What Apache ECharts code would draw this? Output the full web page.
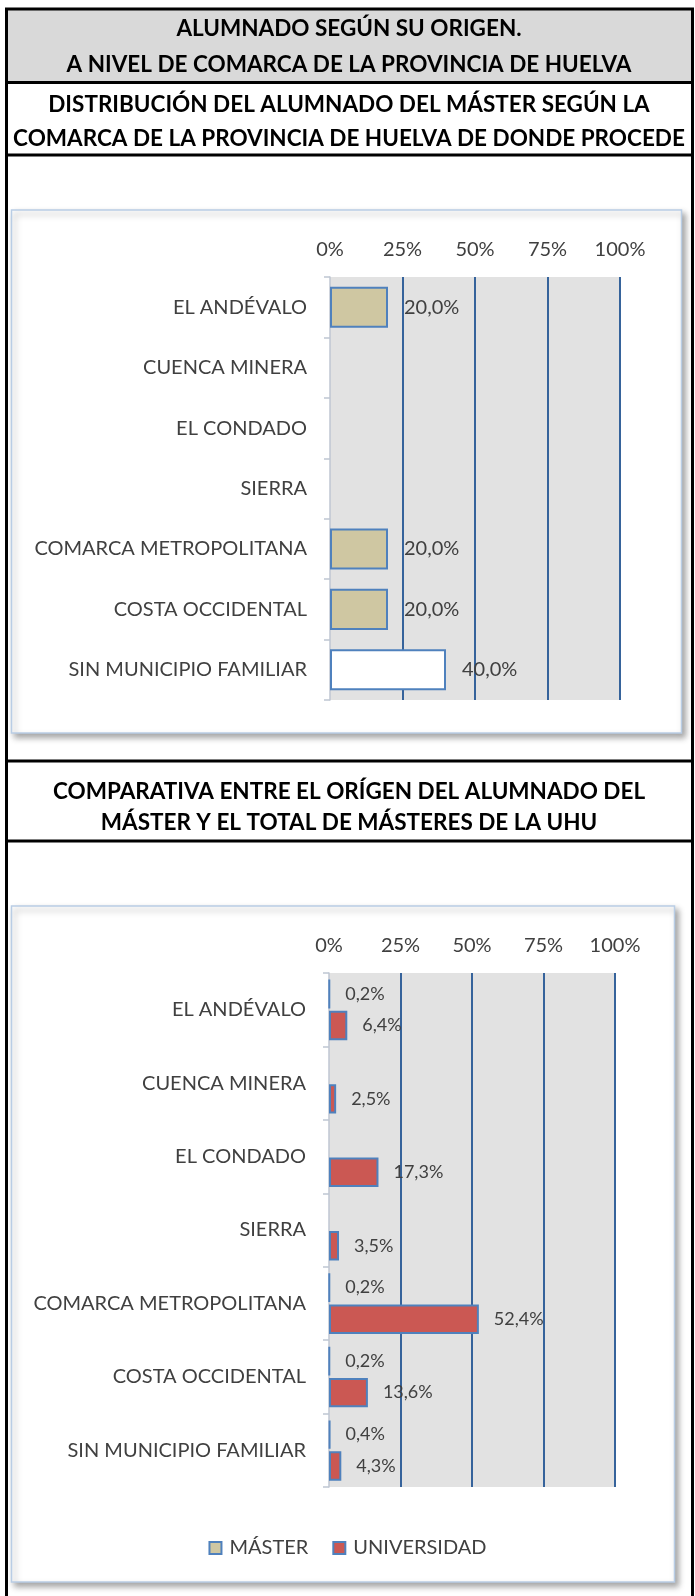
<!DOCTYPE html>
<html>
<head>
<meta charset="utf-8">
<script src="https://cdn.jsdelivr.net/npm/echarts@6/dist/echarts.min.js"></script>
<style>
html,body{margin:0;padding:0;background:#fff;}
#c{width:695px;height:1596px;}
</style>
</head>
<body>
<div id="c"></div>
<script>
// ---- data ----
const categories = ['EL ANDÉVALO','CUENCA MINERA','EL CONDADO','SIERRA','COMARCA METROPOLITANA','COSTA OCCIDENTAL','SIN MUNICIPIO FAMILIAR'];
const masterDist = [20.0, null, null, null, 20.0, 20.0, 40.0];
const masterCmp = [0.2, null, null, null, 0.2, 0.2, 0.4];
const universidadCmp = [6.4, 2.5, 17.3, 3.5, 52.4, 13.6, 4.3];
const axisTicks = [0, 25, 50, 75, 100];
const seriesNames = ['MÁSTER', 'UNIVERSIDAD'];
const headerLines = ['ALUMNADO SEGÚN SU ORIGEN.', 'A NIVEL DE COMARCA DE LA PROVINCIA DE HUELVA'];
const title1Lines = ['DISTRIBUCIÓN DEL ALUMNADO DEL MÁSTER SEGÚN LA', 'COMARCA DE LA PROVINCIA DE HUELVA DE DONDE PROCEDE'];
const title2Lines = ['COMPARATIVA ENTRE EL ORÍGEN DEL ALUMNADO DEL', 'MÁSTER Y EL TOTAL DE MÁSTERES DE LA UHU'];

// ---- styles ----
const FONT = 'Lato';
const TXT = '#404040';
const BLUE = '#4F81BD';
const GRIDLINE = '#36639B';
const BEIGE = '#CFC7A2';
const RED = '#CB5853';

const fmt = p => (p.value == null ? '' : p.value.toFixed(1).replace('.', ',') + '%');

function xAxisFor(gi) {
  return {
    gridIndex: gi, type: 'value', position: 'top',
    min: axisTicks[0], max: axisTicks[axisTicks.length - 1],
    interval: axisTicks[1] - axisTicks[0],
    axisLine: {show: false}, axisTick: {show: false},
    axisLabel: {formatter: '{value}%', fontFamily: FONT, fontSize: 20, color: TXT, margin: 17},
    splitLine: {show: true, showMinLine: false, lineStyle: {color: GRIDLINE, width: 2}}
  };
}
function yAxisFor(gi) {
  return {
    gridIndex: gi, type: 'category', inverse: true, data: categories,
    axisLine: {show: true, lineStyle: {color: '#BFC6D2', width: 1.5}},
    axisTick: {show: true, length: 6, lineStyle: {color: '#BFC6D2', width: 1.5}},
    axisLabel: {fontFamily: FONT, fontSize: 20, color: TXT, margin: 23}
  };
}

const titleBlock = (lines, top, lh) => ({
  text: lines.join('\n'), left: 349, textAlign: 'center', top: top, padding: 0,
  textStyle: {fontFamily: FONT, fontWeight: 'bold', fontSize: 22.5, color: '#000', lineHeight: lh}
});

const chartBox = (x, y, w, h) => ({
  type: 'rect', z: -10, shape: {x: x, y: y, width: w, height: h},
  style: {fill: '#fff', stroke: '#B9CDE5', lineWidth: 1.5,
          shadowBlur: 6, shadowOffsetX: 3, shadowOffsetY: 4, shadowColor: 'rgba(0,0,0,0.35)'}
});
const hLine = y => ({type: 'line', z: -5, shape: {x1: 6, y1: y, x2: 693, y2: y}, style: {stroke: '#000', lineWidth: 3}});

const option = {
  animation: false,
  backgroundColor: '#fff',
  title: [
    titleBlock(headerLines, 11, 36),
    titleBlock(title1Lines, 88, 34),
    titleBlock(title2Lines, 776, 31)
  ],
  graphic: [
    {type: 'rect', z: -20, shape: {x: 7, y: 10, width: 685, height: 72}, style: {fill: '#D9D9D9'}},
    chartBox(11.5, 210, 670, 523),
    chartBox(11.5, 906, 663, 676),
    {type: 'rect', z: -5, shape: {x: 6.5, y: 9, width: 686, height: 1600}, style: {fill: null, stroke: '#000', lineWidth: 3}},
    hLine(82.5), hLine(155), hLine(761), hLine(841)
  ],
  legend: {
    data: seriesNames, left: 'center', top: 1533,
    itemWidth: 12, itemHeight: 12, itemGap: 24, icon: 'rect',
    textStyle: {fontFamily: FONT, fontSize: 20, color: TXT, padding: [0, 0, 0, 3]}
  },
  grid: [
    {left: 330, top: 277, width: 290, height: 423, show: true, backgroundColor: '#E2E2E2', borderWidth: 0},
    {left: 329, top: 973, width: 286, height: 514, show: true, backgroundColor: '#E2E2E2', borderWidth: 0}
  ],
  xAxis: [xAxisFor(0), xAxisFor(1)],
  yAxis: [yAxisFor(0), yAxisFor(1)],
  series: [
    {
      type: 'bar', name: 'dist', xAxisIndex: 0, yAxisIndex: 0, barCategoryGap: '32%',
      data: masterDist.map((v, i) => categories[i] === 'SIN MUNICIPIO FAMILIAR' ? {value: v, itemStyle: {color: '#FFFFFF'}} : v),
      itemStyle: {color: BEIGE, borderColor: BLUE, borderWidth: 2},
      label: {show: true, position: 'right', distance: 16, formatter: fmt, fontFamily: FONT, fontSize: 20, color: TXT}
    },
    {
      type: 'bar', name: seriesNames[0], xAxisIndex: 1, yAxisIndex: 1, barCategoryGap: '17%', barGap: '7%',
      data: masterCmp,
      itemStyle: {color: BEIGE, borderColor: BLUE, borderWidth: 2},
      label: {show: true, position: 'right', distance: 15, formatter: fmt, fontFamily: FONT, fontSize: 18, color: TXT}
    },
    {
      type: 'bar', name: seriesNames[1], xAxisIndex: 1, yAxisIndex: 1, barCategoryGap: '17%', barGap: '7%',
      data: universidadCmp,
      itemStyle: {color: RED, borderColor: BLUE, borderWidth: 2},
      label: {show: true, position: 'right', distance: 15, formatter: fmt, fontFamily: FONT, fontSize: 18, color: TXT}
    }
  ]
};

const chart = echarts.init(document.getElementById('c'), null, {renderer: 'canvas'});
chart.setOption(option);
</script>
</body>
</html>
